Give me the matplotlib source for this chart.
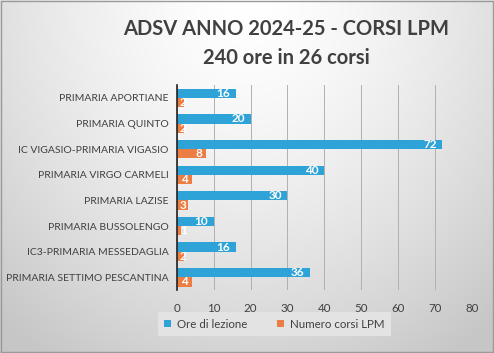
import numpy as np
from matplotlib import pyplot as plt

schools = ['PRIMARIA APORTIANE', 'PRIMARIA QUINTO', 'IC VIGASIO-PRIMARIA VIGASIO',
           'PRIMARIA VIRGO CARMELI', 'PRIMARIA LAZISE', 'PRIMARIA BUSSOLENGO',
           'IC3-PRIMARIA MESSEDAGLIA', 'PRIMARIA SETTIMO PESCANTINA']
ore = [16, 20, 72, 40, 30, 10, 16, 36]
corsi = [2, 2, 8, 4, 3, 1, 2, 4]
xticks = [0, 10, 20, 30, 40, 50, 60, 70, 80]

blue = '#2ea3d7'
orange = '#ec7d43'
txt = '#404040'
plt.rcParams['font.family'] = ['Lato', 'DejaVu Sans']

fig = plt.figure(figsize=(4.94, 3.53), dpi=100)

# gradient background
bg = fig.add_axes([0, 0, 1, 1], zorder=-1)
yy, xx = np.mgrid[0:1:200j, 0:1:300j]
r = np.sqrt(((xx - 0.5) / 0.75) ** 2 + ((yy - 0.0) / 1.2) ** 2)
shade = 1.0 - 0.22 * np.clip(r, 0, 1) ** 1.5
bg.imshow(np.dstack([shade] * 3), extent=[0, 1, 0, 1], aspect='auto', origin='upper')
bg.plot([0.002, 0.998, 0.998, 0.002, 0.002], [0.003, 0.003, 0.997, 0.997, 0.003],
        color='#9a9a9a', lw=1)
bg.set_xlim(0, 1)
bg.set_ylim(0, 1)
bg.axis('off')

fig.text(0.58, 0.918, 'ADSV ANNO 2024-25 - CORSI LPM', ha='center', va='center',
         fontsize=14.5, fontweight='bold', color=txt)
fig.text(0.58, 0.835, '240 ore in 26 corsi', ha='center', va='center',
         fontsize=14.5, fontweight='bold', color=txt)

ax = fig.add_axes([0.358, 0.178, 0.597, 0.581])
ax.patch.set_alpha(0)
y = np.arange(len(schools))[::-1]
h = 0.36
ax.barh(y + h / 2, ore, height=h, color=blue, label='Ore di lezione', zorder=3)
ax.barh(y - h / 2, corsi, height=h, color=orange, label='Numero corsi LPM', zorder=3)

for yi, v in zip(y, ore):
    ax.annotate(str(v), (v, yi + h / 2), xytext=(-4, 0), textcoords='offset points',
                ha='right', va='center', color='white', fontsize=8.5, fontweight='bold', zorder=4)
for yi, v in zip(y, corsi):
    ax.annotate(str(v), (max(v, 3.8), yi - h / 2), xytext=(-3, 0), textcoords='offset points',
                ha='right', va='center', color='white', fontsize=8.5, fontweight='bold', zorder=4)

ax.set_xlim(0, 80)
ax.set_ylim(-0.5, len(schools) - 0.5)
ax.set_xticks(xticks)
ax.set_yticks(y)
ax.set_yticklabels(schools)
ax.grid(axis='x', color='#b0b0b0', lw=0.7, zorder=0)
for s in ['top', 'right', 'bottom']:
    ax.spines[s].set_visible(False)
ax.spines['left'].set_color('#222222')
ax.spines['left'].set_linewidth(1.2)
ax.spines['left'].set_zorder(5)
ax.tick_params(axis='y', length=0, pad=6, labelsize=7.5, labelcolor=txt)
ax.tick_params(axis='x', length=0, pad=9, labelsize=8.3, labelcolor=txt)

leg = ax.legend(loc='upper center', bbox_to_anchor=(0.33, -0.108), ncol=2, frameon=True,
                fontsize=8.3, handlelength=0.6, handleheight=0.6, handletextpad=0.5,
                columnspacing=2.6, borderpad=0.55, borderaxespad=0, fancybox=False,
                labelcolor=txt)
leg.get_frame().set_facecolor('#e3e3e3')
leg.get_frame().set_edgecolor('none')
leg.get_frame().set_alpha(1)

fig.savefig('out.png', dpi=100)
